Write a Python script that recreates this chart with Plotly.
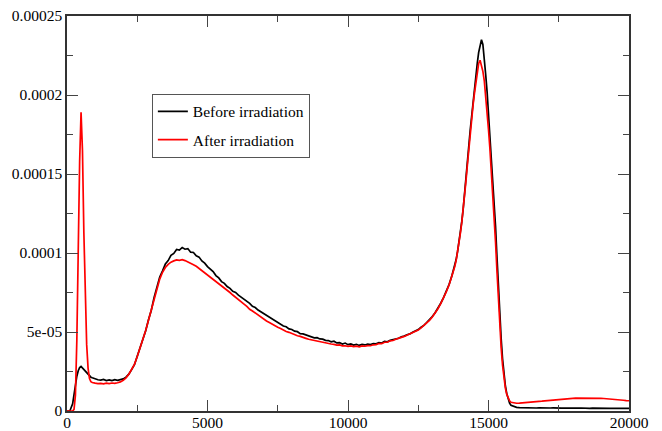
import plotly.graph_objects as go

# ---------------- data (y values in units of 1e-5) ----------------
# Segment 1: x = 0 .. 850
LOW_X = [0, 100, 200, 250, 300, 350, 400, 450, 500, 550, 600, 650, 700, 750, 800, 850]
BEFORE_LOW = [0, 0, 0.45, 1.10, 1.70, 2.20, 2.55, 2.75, 2.82, 2.72, 2.60, 2.48, 2.38, 2.28, 2.20, 2.14]
AFTER_LOW = [0, 0, 0, 0.10, 1.00, 4.50, 10.50, 15.80, 18.90, 16.50, 11.30, 7.00, 4.20, 2.70, 2.05, 1.85]

# Segment 2: x = 900 .. 13700, step 100
MID_X = list(range(900, 13701, 100))
BEFORE_MID = [
    2.10, 2.03, 1.98, 1.96, 2.00, 1.93, 1.97, 1.92, 1.98, 1.94,
    1.99, 2.03, 2.14, 2.33, 2.62, 2.93, 3.47, 3.98, 4.57, 5.08,
    5.77, 6.38, 7.18, 7.86, 8.48, 8.87, 9.30, 9.52, 9.85, 9.97,
    10.22, 10.18, 10.35, 10.24, 10.28, 10.05, 10.03, 9.82, 9.74, 9.50,
    9.36, 9.14, 8.98, 8.83, 8.57, 8.42, 8.19, 8.08, 7.88, 7.76,
    7.58, 7.50, 7.33, 7.20, 7.06, 6.92, 6.81, 6.62, 6.55, 6.39,
    6.28, 6.16, 6.02, 5.95, 5.80, 5.72, 5.58, 5.52, 5.38, 5.33,
    5.20, 5.16, 5.05, 5.02, 4.90, 4.88, 4.82, 4.76, 4.72, 4.63,
    4.64, 4.56, 4.55, 4.47, 4.46, 4.38, 4.42, 4.31, 4.33, 4.24,
    4.30, 4.20, 4.24, 4.17, 4.22, 4.15, 4.21, 4.18, 4.23, 4.20,
    4.27, 4.25, 4.33, 4.30, 4.40, 4.38, 4.47, 4.50, 4.57, 4.60,
    4.70, 4.74, 4.83, 4.88, 4.99, 5.08, 5.15, 5.30, 5.42, 5.60,
    5.77, 5.98, 6.22, 6.50, 6.82, 7.18, 7.58, 8.02, 8.58,
]
AFTER_MID = [
    1.80, 1.76, 1.73, 1.75, 1.72, 1.76, 1.73, 1.77, 1.75, 1.79,
    1.84, 1.94, 2.10, 2.33, 2.60, 2.95, 3.45, 3.98, 4.55, 5.10,
    5.74, 6.40, 7.12, 7.80, 8.35, 8.78, 9.08, 9.28, 9.42, 9.50,
    9.56, 9.54, 9.58, 9.52, 9.44, 9.38, 9.26, 9.16, 9.02, 8.90,
    8.78, 8.66, 8.52, 8.38, 8.24, 8.08, 7.92, 7.80, 7.64, 7.50,
    7.34, 7.18, 7.06, 6.90, 6.76, 6.62, 6.44, 6.33, 6.20, 6.05,
    5.94, 5.82, 5.70, 5.60, 5.49, 5.40, 5.30, 5.22, 5.12, 5.03,
    4.98, 4.90, 4.84, 4.76, 4.72, 4.64, 4.60, 4.54, 4.50, 4.44,
    4.42, 4.37, 4.35, 4.30, 4.27, 4.24, 4.22, 4.17, 4.18, 4.12,
    4.13, 4.09, 4.12, 4.07, 4.11, 4.06, 4.12, 4.10, 4.14, 4.13,
    4.19, 4.20, 4.27, 4.26, 4.35, 4.35, 4.44, 4.46, 4.54, 4.58,
    4.66, 4.72, 4.80, 4.86, 4.95, 5.05, 5.12, 5.26, 5.40, 5.57,
    5.74, 5.95, 6.19, 6.47, 6.79, 7.15, 7.56, 7.99, 8.55,
]

# Segment 3: x = 13800 .. 15750, step 50
PEAK_X = list(range(13800, 15751, 50))
BEFORE_PEAK = [
    9.20, 9.60, 10.10, 10.65, 11.30, 12.00, 12.80, 13.70, 14.70, 15.70,
    16.80, 17.80, 18.70, 19.60, 20.40, 21.20, 22.00, 22.70, 23.20, 23.50,
    23.20, 22.40, 21.30, 20.20, 18.90, 17.60, 16.20, 14.80, 13.40, 11.70,
    9.80, 7.90, 6.10, 4.60, 3.30, 2.30, 1.60, 1.10, 0.75, 0.50,
]
AFTER_PEAK = [
    9.15, 9.55, 10.05, 10.60, 11.25, 11.95, 12.75, 13.65, 14.60, 15.60,
    16.65, 17.60, 18.50, 19.35, 20.10, 20.80, 21.50, 22.00, 22.20, 21.90,
    21.50, 20.90, 20.00, 19.00, 17.80, 16.60, 15.30, 13.90, 12.40, 10.70,
    8.90, 7.10, 5.40, 4.00, 2.90, 2.00, 1.45, 1.05, 0.80, 0.65,
]

# Segment 4: x = 15800 .. 20000, step 100
TAIL_X = list(range(15800, 20001, 100))
BEFORE_TAIL = [
    0.36, 0.27, 0.23, 0.21, 0.20, 0.21, 0.19, 0.20, 0.20, 0.19,
    0.20, 0.19, 0.20, 0.18, 0.19, 0.20, 0.18, 0.19, 0.18, 0.19,
    0.18, 0.19, 0.18, 0.17, 0.18, 0.19, 0.17, 0.18, 0.17, 0.18,
    0.17, 0.18, 0.16, 0.17, 0.18, 0.16, 0.17, 0.16, 0.17, 0.16,
    0.17, 0.16, 0.16,
]
AFTER_TAIL = [
    0.55, 0.50, 0.49, 0.50, 0.51, 0.52, 0.53, 0.55, 0.56, 0.58,
    0.60, 0.62, 0.64, 0.66, 0.68, 0.70, 0.71, 0.73, 0.74, 0.76,
    0.77, 0.79, 0.80, 0.81, 0.81, 0.83, 0.82, 0.84, 0.83, 0.82,
    0.82, 0.81, 0.80, 0.79, 0.78, 0.76, 0.75, 0.73, 0.71, 0.70,
    0.68, 0.66, 0.65,
]

Y_UNIT = 1e-5
X_TICKS = [0, 5000, 10000, 15000, 20000]
X_TICK_TEXT = ["0", "5000", "10000", "15000", "20000"]
Y_TICKS = [0, 5e-5, 1e-4, 1.5e-4, 2e-4, 2.5e-4]
Y_TICK_TEXT = ["0", "5e-05", "0.0001", "0.00015", "0.0002", "0.00025"]
SERIES_NAMES = ["Before irradiation", "After irradiation"]

# ---------------- assemble ----------------
assert len(MID_X) == len(BEFORE_MID) == len(AFTER_MID)
assert len(PEAK_X) == len(BEFORE_PEAK) == len(AFTER_PEAK)
assert len(TAIL_X) == len(BEFORE_TAIL) == len(AFTER_TAIL)
assert len(LOW_X) == len(BEFORE_LOW) == len(AFTER_LOW)

x_all = LOW_X + MID_X + PEAK_X + TAIL_X
before = [v * Y_UNIT for v in BEFORE_LOW + BEFORE_MID + BEFORE_PEAK + BEFORE_TAIL]
after = [v * Y_UNIT for v in AFTER_LOW + AFTER_MID + AFTER_PEAK + AFTER_TAIL]

FONT = "Liberation Serif"

fig = go.Figure()
fig.add_trace(go.Scatter(x=x_all, y=before, mode="lines", name=SERIES_NAMES[0],
                         line=dict(color="#000000", width=1.7), legendgroup="a"))
fig.add_trace(go.Scatter(x=x_all, y=after, mode="lines", name=SERIES_NAMES[1],
                         line=dict(color="#ff0000", width=1.7), legendgroup="b"))

axis_common = dict(
    showgrid=False, zeroline=False, showline=True, linecolor="#333333", linewidth=1.5,
    mirror="ticks", ticks="inside", ticklen=11, tickwidth=1.2, tickcolor="#444444",
    tickfont=dict(family=FONT, size=15.5, color="#000000"), automargin=False,
)

fig.update_layout(
    width=662, height=431,
    margin=dict(l=67, r=33, t=16, b=20),
    paper_bgcolor="white", plot_bgcolor="white",
    showlegend=True,
    legend=dict(x=0.151, y=0.803, xanchor="left", yanchor="top",
                bordercolor="#555555", borderwidth=1, bgcolor="white",
                font=dict(family=FONT, size=15.5, color="#000000"),
                tracegroupgap=5),
    xaxis=dict(range=[0, 20000], tickvals=X_TICKS, ticktext=X_TICK_TEXT,
               ticklabelstandoff=-3,
               minor=dict(dtick=2500, tick0=0, ticks="inside", ticklen=6, tickwidth=1.2, tickcolor="#444444"),
               **axis_common),
    yaxis=dict(range=[0, 0.00025], tickvals=Y_TICKS, ticktext=Y_TICK_TEXT,
               minor=dict(dtick=2.5e-5, tick0=0, ticks="inside", ticklen=6, tickwidth=1.2, tickcolor="#444444"),
               **axis_common),
)

fig.write_html("out.html")
